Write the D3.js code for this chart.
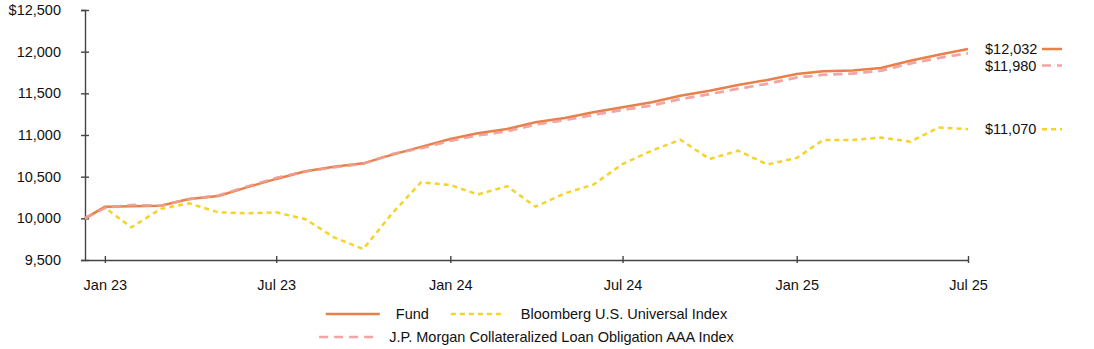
<!DOCTYPE html>
<html>
<head>
<meta charset="utf-8">
<script src="https://cdn.jsdelivr.net/npm/d3@7"></script>
<style>
  body { margin: 0; background: #fff; }
  svg text { font-family: "Liberation Sans", Arial, sans-serif; fill: #111; }
</style>
</head>
<body>
<svg id="chart" width="1094" height="349"></svg>
<script>
// start of the period, then month-end values
const dates = ['2023-01-10',
  '2023-01-31', '2023-02-28', '2023-03-31', '2023-04-30', '2023-05-31', '2023-06-30',
  '2023-07-31', '2023-08-31', '2023-09-30', '2023-10-31', '2023-11-30', '2023-12-31',
  '2024-01-31', '2024-02-29', '2024-03-31', '2024-04-30', '2024-05-31', '2024-06-30',
  '2024-07-31', '2024-08-31', '2024-09-30', '2024-10-31', '2024-11-30', '2024-12-31',
  '2025-01-31', '2025-02-28', '2025-03-31', '2025-04-30', '2025-05-31', '2025-06-30',
  '2025-07-31']

const fund = [10000,
  10140, 10145, 10150, 10233, 10269, 10372,
  10473, 10565, 10620, 10660, 10762, 10857,
  10952, 11020, 11072, 11152, 11205, 11272,
  11332, 11392, 11472, 11532, 11600, 11660,
  11733, 11764, 11775, 11805, 11892, 11964,
  12032]

const bloomberg = [10000,
  10128, 9892, 10113, 10180, 10072, 10060,
  10072, 9990, 9772, 9632, 10052, 10432,
  10400, 10286, 10385, 10140, 10300, 10404,
  10652, 10812, 10944, 10712, 10812, 10646,
  10725, 10940, 10940, 10970, 10920, 11090,
  11070]

const clo = [10000,
  10125, 10160, 10152, 10230, 10275, 10380,
  10485, 10562, 10612, 10655, 10770, 10840,
  10930, 10995, 11045, 11125, 11180, 11240,
  11300, 11355, 11430, 11490, 11555, 11615,
  11690, 11722, 11738, 11772, 11858, 11925,
  11980]

const yTicks = [9500, 10000, 10500, 11000, 11500, 12000, 12500]

const series = [
  { name: 'Fund', values: fund, color: '#e8804a', dash: null, legendRow: 0 },
  { name: 'Bloomberg U.S. Universal Index', values: bloomberg, color: '#f6d32b', dash: '5,4', legendRow: 0 },
  { name: 'J.P. Morgan Collateralized Loan Obligation AAA Index', values: clo, color: '#f2a5a2', dash: '9,6', legendRow: 1 }
]

const parse = d3.utcParse('%Y-%m-%d')
const times = dates.map(parse)

const svg = d3.select('#chart')
const margin = { left: 85, top: 10 }
const width = 883
const height = 250

const g = svg.append('g').attr('transform', `translate(${margin.left},${margin.top})`)

const x = d3.scaleUtc().domain(d3.extent(times)).range([0, width])
const y = d3.scaleLinear().domain([9500, 12500]).range([height, 0])

// axes
const yAxis = g.append('g').attr('class', 'y axis')
yAxis.call(d3.axisLeft(y).tickValues(yTicks).tickSize(4).tickPadding(20)
  .tickFormat(d => (d === 12500 ? '$' : '') + d3.format(',')(d)))
yAxis.selectAll('.tick line').attr('x2', 4).attr('x1', -4)

const xTickVals = times.filter(t => t.getUTCMonth() === 0 || t.getUTCMonth() === 6).filter((t, i) => i > 0 || t.getUTCDate() > 20)
const xAxis = g.append('g').attr('class', 'x axis').attr('transform', `translate(0,${height})`)
xAxis.call(d3.axisBottom(x).tickValues(xTickVals).tickSizeOuter(0).tickPadding(14)
  .tickFormat(d3.utcFormat('%b %y')))
xAxis.selectAll('.tick line').attr('y1', -4).attr('y2', 3)

svg.selectAll('.axis path, .axis line').attr('stroke', '#444').attr('stroke-width', 1.4)
svg.selectAll('.axis text').attr('font-size', 14.5).attr('fill', '#111')
  .attr('font-family', '"Liberation Sans", Arial, sans-serif')

// lines
const line = d3.line().x((d, i) => x(times[i])).y(d => y(d))

const drawOrder = [series[1], series[2], series[0]]
drawOrder.forEach(s => {
  g.append('path')
    .datum(s.values)
    .attr('fill', 'none')
    .attr('stroke', s.color)
    .attr('stroke-width', 2.5)
    .attr('stroke-dasharray', s.dash)
    .attr('d', line)
})
// the CLO dashes sit on top of the fund line
g.append('path')
  .datum(clo)
  .attr('fill', 'none')
  .attr('stroke', series[2].color)
  .attr('stroke-width', 2.5)
  .attr('stroke-dasharray', series[2].dash)
  .attr('opacity', 0.75)
  .attr('d', line)

// end labels, pushed apart so they do not overlap
const ends = series.map(s => ({ s, v: s.values[s.values.length - 1], y: y(s.values[s.values.length - 1]) }))
  .sort((a, b) => a.y - b.y)
for (let i = 1; i < ends.length; i++) {
  if (ends[i].y - ends[i - 1].y < 16.5) ends[i].y = ends[i - 1].y + 16.5
}
const endG = g.append('g').attr('transform', `translate(${width + 17},0)`)
ends.forEach(e => {
  endG.append('text')
    .attr('x', 0).attr('y', e.y).attr('dy', '0.35em')
    .attr('font-size', 14.5)
    .text('$' + d3.format(',')(e.v))
  endG.append('line')
    .attr('x1', 57).attr('x2', 77).attr('y1', e.y).attr('y2', e.y)
    .attr('stroke', e.s.color).attr('stroke-width', 2.5)
    .attr('stroke-dasharray', e.s.dash)
})

// legend, two centred rows under the plot
const legendY = [314, 337]
const centre = margin.left + width / 2
;[0, 1].forEach(row => {
  const items = series.filter(s => s.legendRow === row)
  const rowG = svg.append('g')
  let cx = 0
  items.forEach((s, i) => {
    if (i > 0) cx += 22
    rowG.append('line')
      .attr('x1', cx).attr('x2', cx + 54).attr('y1', 0).attr('y2', 0)
      .attr('stroke', s.color).attr('stroke-width', 2.5)
      .attr('stroke-dasharray', s.dash)
    const t = rowG.append('text')
      .attr('x', cx + 70).attr('y', 0).attr('dy', '0.35em')
      .attr('font-size', 14.5)
      .text(s.name)
    cx += 70 + t.node().getComputedTextLength()
  })
  rowG.attr('transform', `translate(${centre - cx / 2},${legendY[row]})`)
})
</script>
</body>
</html>
